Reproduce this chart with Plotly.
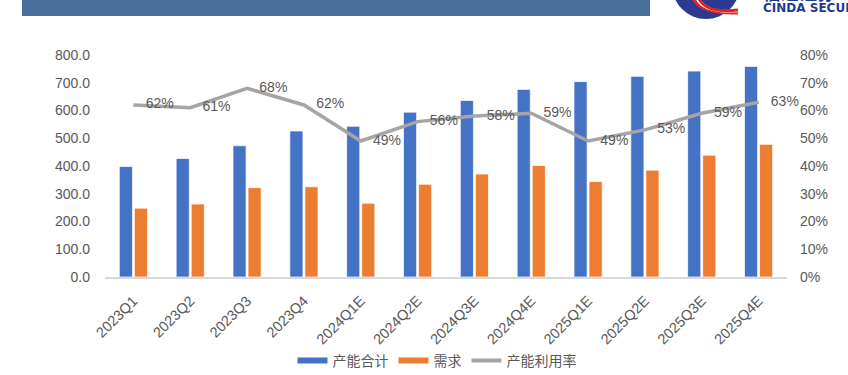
import plotly.graph_objects as go

categories = ["2023Q1", "2023Q2", "2023Q3", "2023Q4", "2024Q1E", "2024Q2E",
              "2024Q3E", "2024Q4E", "2025Q1E", "2025Q2E", "2025Q3E", "2025Q4E"]
capacity = [398, 427, 473, 526, 543, 594, 636, 676, 704, 723, 742, 759]
demand = [248, 263, 322, 325, 266, 334, 371, 402, 344, 385, 439, 478]
utilization = [0.62, 0.61, 0.68, 0.62, 0.49, 0.56, 0.58, 0.59, 0.49, 0.53, 0.59, 0.63]
util_labels = ["62%", "61%", "68%", "62%", "49%", "56%", "58%", "59%", "49%", "53%", "59%", "63%"]

left_ticks = [0, 100, 200, 300, 400, 500, 600, 700, 800]
right_ticks = [0, 0.1, 0.2, 0.3, 0.4, 0.5, 0.6, 0.7, 0.8]

BLUE = "#4472C4"
ORANGE = "#ED7D31"
GRAY = "#A5A5A5"
TXT = "#595959"
FONT = "Liberation Sans, Arial, Helvetica, sans-serif"

W, H = 848, 375
L, R, T, B = 105, 61, 55, 98
PW, PH = W - L - R, H - T - B


def X(px):
    return (px - L) / PW


def Y(py):
    return (H - B - py) / PH


fig = go.Figure()
fig.add_trace(go.Bar(x=categories, y=capacity, name="产能合计", marker_color=BLUE,
                     marker_line=dict(color="rgba(255,255,255,0.7)", width=1),
                     showlegend=False))
fig.add_trace(go.Bar(x=categories, y=demand, name="需求", marker_color=ORANGE,
                     marker_line=dict(color="rgba(255,255,255,0.7)", width=1),
                     showlegend=False))
fig.add_trace(go.Scatter(x=categories, y=utilization, name="产能利用率", yaxis="y2",
                         mode="lines", line=dict(color=GRAY, width=3.5),
                         showlegend=False))
fig.add_trace(go.Scatter(x=categories, y=utilization, yaxis="y2", mode="markers+text",
                         text=util_labels, textposition="middle right",
                         marker=dict(size=18, opacity=0),
                         textfont=dict(size=14, color=TXT, family=FONT),
                         cliponaxis=False, showlegend=False, hoverinfo="skip"))

# legend entries
for nm, col in [("产能合计", BLUE), ("需求", ORANGE), ("产能利用率", GRAY)]:
    fig.add_trace(go.Scatter(x=[None], y=[None], mode="lines", name=nm,
                             line=dict(color=col, width=6 if col != GRAY else 4)))

shapes = [
    dict(type="rect", xref="paper", yref="paper", x0=X(22), x1=X(650), y0=Y(16), y1=Y(-5),
         fillcolor="#4B6F9B", line=dict(width=0), layer="above"),
    dict(type="circle", xref="paper", yref="paper", x0=X(672), x1=X(740), y0=Y(19), y1=Y(-49),
         fillcolor="#2A3A8F", line=dict(width=0)),
]
for w, c, off in [(3, "#E0242B", 0), (1.5, "#FFFFFF", 3), (3, "#E0242B", 6)]:
    p0 = (693 + off, -2)
    p1 = (700 + off, 14)
    p2 = (738, 13 - off * 0.5)
    path = "M {},{} Q {},{} {},{}".format(X(p0[0]), Y(p0[1]), X(p1[0]), Y(p1[1]), X(p2[0]), Y(p2[1]))
    shapes.append(dict(type="path", xref="paper", yref="paper", path=path,
                       line=dict(color=c, width=w)))

annotations = [
    dict(text="<b>CINDA SECURITIES</b>", xref="paper", yref="paper", x=X(762), y=Y(16),
         xanchor="left", yanchor="bottom", showarrow=False, borderpad=0,
         font=dict(size=12, color="#1F3C8C", family="DejaVu Sans")),
    dict(text="<b>信达证券</b>", xref="paper", yref="paper", x=X(762), y=Y(6),
         xanchor="left", yanchor="bottom", showarrow=False, borderpad=0,
         font=dict(size=18, color="#1F3C8C", family="Noto Sans CJK SC")),
]

fig.update_layout(
    width=W, height=H,
    margin=dict(l=L, r=R, t=T, b=B, autoexpand=False),
    paper_bgcolor="white", plot_bgcolor="white",
    barmode="group", bargap=0.47, bargroupgap=0.13,
    font=dict(family=FONT, size=14, color=TXT),
    xaxis=dict(type="category", range=[-0.5, 11.5], showgrid=False, showline=True,
               linecolor="#D9D9D9", automargin=False,
               linewidth=1.5, tickangle=-45, ticks="", ticklabelstandoff=8,
               tickfont=dict(size=14.5, color=TXT)),
    yaxis=dict(range=[0, 800], tickvals=left_ticks, tickformat=".1f", showgrid=False,
               zeroline=False, showline=False, ticks="", ticklabelstandoff=14,
               automargin=False, tickfont=dict(size=14, color=TXT)),
    yaxis2=dict(range=[0, 0.8], tickvals=right_ticks, tickformat=".0%", overlaying="y",
                side="right", showgrid=False, zeroline=False, showline=False, ticks="",
                automargin=False, ticklabelstandoff=12, tickfont=dict(size=14, color=TXT)),
    legend=dict(orientation="h", x=X(437), xanchor="center", y=Y(361), yanchor="middle",
                font=dict(size=14, color=TXT, family="Noto Sans CJK SC"),
                itemwidth=30, bgcolor="rgba(0,0,0,0)"),
    shapes=shapes,
    annotations=annotations,
)

fig.write_html("out.html", config={"displayModeBar": False},
               post_script="document.body.style.margin='0';document.body.style.overflow='hidden';")
